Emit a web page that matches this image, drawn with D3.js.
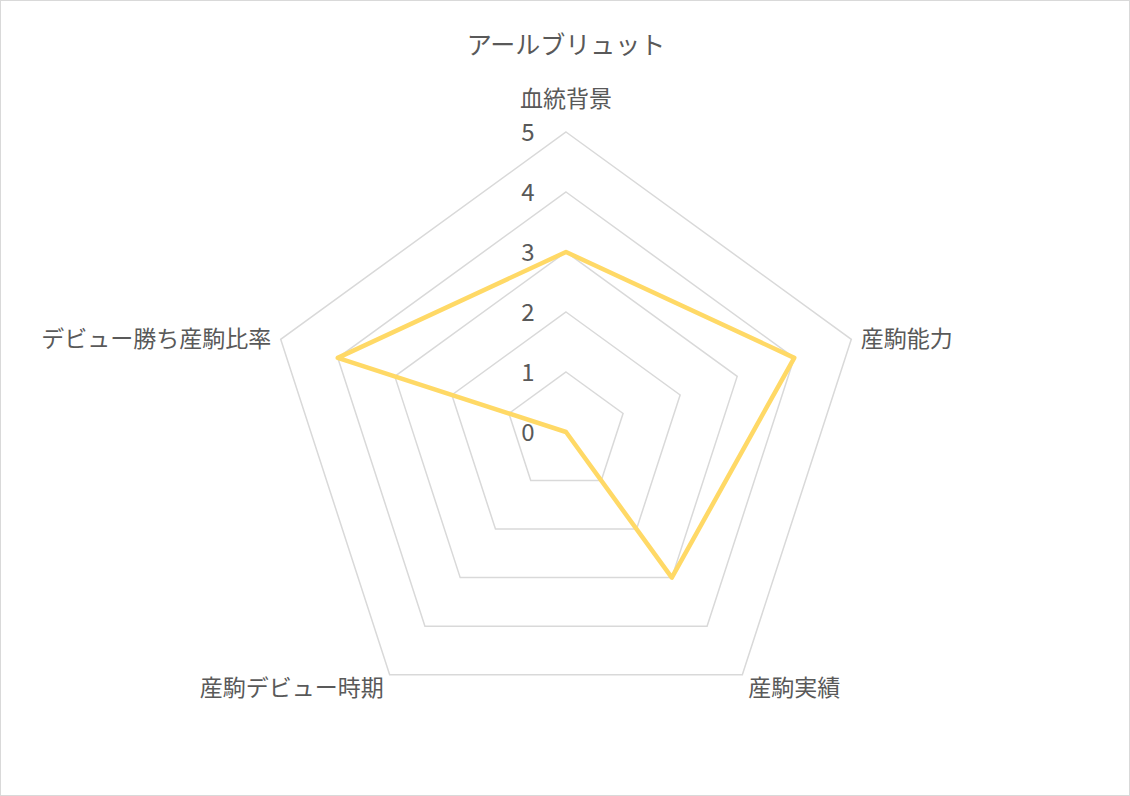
<!DOCTYPE html>
<html><head><meta charset="utf-8">
<script src="https://cdn.jsdelivr.net/npm/d3@7"></script>
<style>body{margin:0;background:#fff}svg text{font-family:"Noto Sans CJK JP","Noto Sans",sans-serif;fill:#595959}</style>
</head><body>
<script>
const title = "アールブリュット";
const categories = ["血統背景","産駒能力","産駒実績","産駒デビュー時期","デビュー勝ち産駒比率"];
const values = [3,4,3,0,4];
const ticks = [0,1,2,3,4,5];

const W=1130,H=796,cx=566,cy=432,R=300;
const svg=d3.select("body").append("svg").attr("width",W).attr("height",H);
svg.append("rect").attr("x",0.5).attr("y",0.5).attr("width",W-1).attr("height",H-1).attr("fill","#fff").attr("stroke","#d9d9d9");
const r=d3.scaleLinear().domain([0,5]).range([0,R]);
const ang=d3.scalePoint().domain(categories).range([0,2*Math.PI*(categories.length-1)/categories.length]);
const pt=(c,v)=>[cx+r(v)*Math.sin(ang(c)),cy-r(v)*Math.cos(ang(c))];
const line=d3.line();
ticks.forEach(t=>{ if(t===0) return;
  svg.append("path").attr("d",line(categories.map(c=>pt(c,t)))+"Z").attr("fill","none").attr("stroke","#d9d9d9").attr("stroke-width",1.5);
});
svg.append("path").attr("d",line(categories.map((c,i)=>pt(c,values[i])))+"Z").attr("fill","none").attr("stroke","#FFD966").attr("stroke-width",4.5).attr("stroke-linejoin","round");
ticks.forEach(t=>{
  svg.append("text").attr("x",cx-38).attr("y",cy-r(t)+9).attr("text-anchor","middle").attr("font-size",24).text(t);
});
svg.append("text").attr("x",cx).attr("y",54).attr("text-anchor","middle").attr("font-size",25).text(title);
categories.forEach(c=>{
  const a=ang(c), s=Math.sin(a), co=Math.cos(a);
  const [x,y]=pt(c,5);
  let anchor = Math.abs(s)<0.1?"middle":(s>0?"start":"end");
  let tx=x+ s*10, ty=y;
  if(Math.abs(s)<0.1){ty=y-25;}
  else if(co>0){ty=y+8;}
  else {ty=y+21; tx = x + (s>0?6:-6);}
  svg.append("text").attr("x",tx).attr("y",ty).attr("text-anchor",anchor).attr("font-size",23).text(c);
});
</script>
</body></html>
